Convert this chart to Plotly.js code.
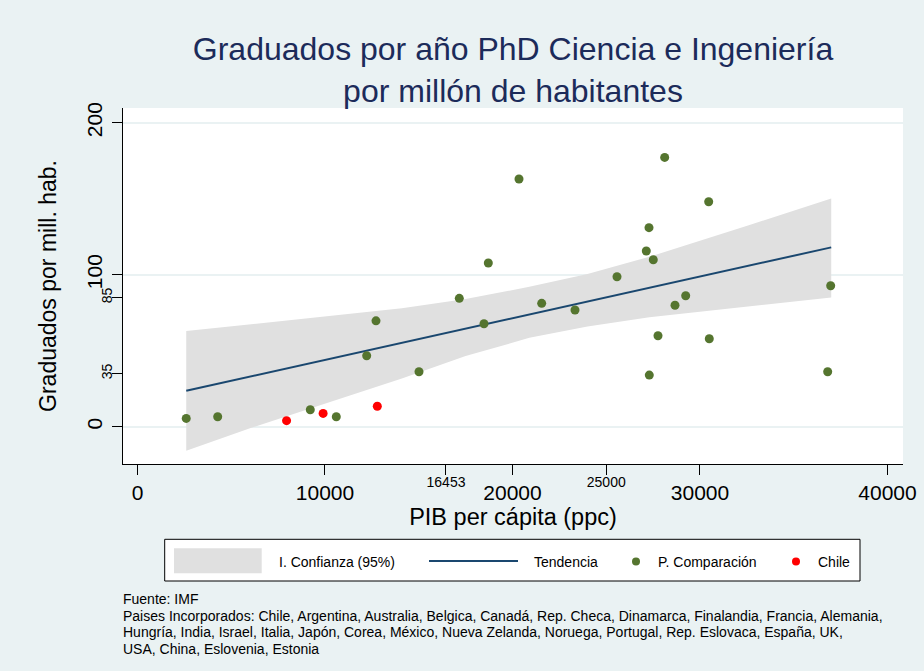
<!DOCTYPE html>
<html>
<head>
<meta charset="utf-8">
<script src="https://cdn.plot.ly/plotly-3.0.1.min.js"></script>
<style>
  html, body { margin: 0; padding: 0; background: #eaf2f3; }
  #chart { width: 924px; height: 671px; }
</style>
</head>
<body>
<div id="chart"></div>
<script>
// ---- Data ----
const compX = [2600, 4277, 9216, 10603, 12224, 12720, 15013, 17163, 18480, 18710, 20347, 21557, 23333,
               25573, 27136, 27280, 27509, 27296, 27760, 28117, 28667, 29237, 30464, 30496, 36810, 36970];
const compY = [5.5, 6.6, 11.2, 6.6, 46.7, 69.7, 36.2, 84.5, 67.8, 107.7, 163, 81.2, 76.8,
               98.7, 115.6, 131, 109.9, 34.0, 59.9, 177.2, 79.9, 86.2, 148, 57.9, 36.2, 92.8];
const chileX = [7950, 9900, 12790];
const chileY = [4.0, 8.8, 13.5];
const trendX = [2600, 37000];
const trendY = [23.7, 118.0];
const bandX = [2600, 6000, 9700, 14100, 17500, 20900, 24000, 27300, 32600, 37000];
const bandUpper = [63.0, 67.3, 72.0, 77.9, 84.0, 92.1, 100.5, 111.8, 132.5, 150.2];
const bandLower = [-15.8, -1.0, 14.0, 31.8, 46.5, 58.5, 66.0, 72.0, 79.0, 85.1];
const xMajorTicks = [0, 10000, 20000, 30000, 40000];
const xMarkTicks = [16453, 25000];
const yMajorTicks = [0, 100, 200];
const yMarkTicks = [35, 85];

const titleText = 'Graduados por año PhD Ciencia e Ingeniería<br>por millón de habitantes';
const xTitle = 'PIB per cápita (ppc)';
const yTitle = 'Graduados por mill. hab.';
const legendLabels = ['I. Confianza (95%)', 'Tendencia', 'P. Comparación', 'Chile'];
const noteLines = [
  'Fuente: IMF',
  'Paises Incorporados: Chile, Argentina, Australia, Belgica, Canadá, Rep. Checa, Dinamarca, Finalandia, Francia, Alemania,',
  'Hungría, India, Israel, Italia, Japón, Corea, México, Nueva Zelanda, Noruega, Portugal, Rep. Eslovaca, España, UK,',
  'USA, China, Eslovenia, Estonia'
];

// ---- Styling ----
const FONT = 'Liberation Sans, Arial, Helvetica, sans-serif';
const BG = '#eaf2f3';
const BAND = '#e0e0e0';
const NAVY = '#1a476f';
const GREEN = '#55752f';
const RED = '#ff0000';

const W = 924, H = 671;
const M = {l: 123, r: 21, t: 108, b: 207};
const PW = W - M.l - M.r, PH = H - M.t - M.b;
const fx = px => (px - M.l) / PW;
const fy = py => (H - M.b - py) / PH;

const xRange = [-773, 40827];
const yRange = [-24.5, 209.7];

const traces = [
  {
    x: bandX.concat(bandX.slice().reverse()),
    y: bandUpper.concat(bandLower.slice().reverse()),
    type: 'scatter', mode: 'lines', fill: 'toself',
    fillcolor: BAND, line: {width: 0, color: BAND},
    hoverinfo: 'skip', showlegend: false, xaxis: 'x', yaxis: 'y'
  },
  {
    x: trendX, y: trendY, type: 'scatter', mode: 'lines',
    line: {color: NAVY, width: 2}, showlegend: false, xaxis: 'x2', yaxis: 'y2'
  },
  {
    x: compX, y: compY, type: 'scatter', mode: 'markers',
    marker: {color: GREEN, size: 9}, showlegend: false, xaxis: 'x2', yaxis: 'y2'
  },
  {
    x: chileX, y: chileY, type: 'scatter', mode: 'markers',
    marker: {color: RED, size: 9}, showlegend: false, xaxis: 'x2', yaxis: 'y2'
  }
];

// Manual legend (layout only)
const legY = 561;
const shapes = [
  {type: 'rect', xref: 'paper', yref: 'paper', x0: fx(164.7), x1: fx(860), y0: fy(581), y1: fy(539.3),
   line: {color: '#000000', width: 1}, fillcolor: '#ffffff', layer: 'above'},
  {type: 'rect', xref: 'paper', yref: 'paper', x0: fx(174), x1: fx(261.7), y0: fy(573.3), y1: fy(548.3),
   line: {width: 0}, fillcolor: BAND, layer: 'above'},
  {type: 'line', xref: 'paper', yref: 'paper', x0: fx(429), x1: fx(518), y0: fy(legY), y1: fy(legY),
   line: {color: NAVY, width: 2}, layer: 'above'},
  {type: 'circle', xref: 'paper', yref: 'paper', x0: fx(632), x1: fx(640), y0: fy(565.5), y1: fy(557.5),
   line: {width: 0}, fillcolor: GREEN, layer: 'above'},
  {type: 'circle', xref: 'paper', yref: 'paper', x0: fx(792), x1: fx(800), y0: fy(565.5), y1: fy(557.5),
   line: {width: 0}, fillcolor: RED, layer: 'above'}
];
const legX = [279, 534, 657.5, 817.5];
const annotations = legendLabels.map((t, i) => ({
  text: t, xref: 'paper', yref: 'paper', x: fx(legX[i] - 2), y: fy(legY + 1),
  xanchor: 'left', yanchor: 'middle', showarrow: false,
  font: {family: FONT, size: 14, color: '#000000'}
}));
const noteY0 = 599, noteStep = 16.5;
noteLines.forEach((t, i) => {
  annotations.push({
    text: t, xref: 'paper', yref: 'paper', x: fx(122), y: fy(noteY0 + i * noteStep),
    xanchor: 'left', yanchor: 'middle', align: 'left', showarrow: false, borderpad: 0,
    font: {family: FONT, size: 14, color: '#000000'}
  });
});

const layout = {
  width: W, height: H,
  margin: M,
  paper_bgcolor: BG, plot_bgcolor: '#ffffff',
  font: {family: FONT, color: '#000000'},
  showlegend: false,
  title: {
    text: titleText, xref: 'paper', x: 0.5, xanchor: 'center',
    yref: 'container', y: 1 - 60 / H, yanchor: 'middle',
    font: {family: FONT, size: 32, color: '#1c2b5a'}
  },
  xaxis: {
    range: xRange, tickvals: xMajorTicks, ticktext: xMajorTicks.map(String),
    ticks: 'outside', ticklen: 10, tickwidth: 1, tickcolor: '#000000',
    tickfont: {family: FONT, size: 21, color: '#000000'}, ticklabelstandoff: 0,
    showline: true, linecolor: '#000000', linewidth: 1, mirror: false,
    showgrid: false, zeroline: false, automargin: false,
    title: {text: xTitle, font: {family: FONT, size: 23.5, color: '#000000'}, standoff: 0}
  },
  yaxis: {
    range: yRange, tickvals: yMajorTicks, ticktext: yMajorTicks.map(String), tickangle: -90,
    ticks: 'outside', ticklen: 10, tickwidth: 1, tickcolor: '#000000',
    tickfont: {family: FONT, size: 21, color: '#000000'}, ticklabelstandoff: 2,
    showline: true, linecolor: '#000000', linewidth: 1,
    showgrid: true, gridcolor: BG, gridwidth: 2, zeroline: false, automargin: false,
    title: {text: yTitle, font: {family: FONT, size: 23, color: '#000000'}, standoff: 19}
  },
  xaxis2: {
    overlaying: 'x', anchor: 'y', side: 'bottom', range: xRange,
    tickvals: xMarkTicks, ticktext: xMarkTicks.map(String),
    ticks: 'outside', ticklen: 10, tickwidth: 1, tickcolor: '#000000',
    tickfont: {family: FONT, size: 14, color: '#000000'}, ticklabelstandoff: -5,
    showline: false, showgrid: false, zeroline: false, automargin: false
  },
  yaxis2: {
    overlaying: 'y', anchor: 'x', side: 'left', range: yRange,
    tickvals: yMarkTicks, ticktext: yMarkTicks.map(String), tickangle: -90,
    ticks: 'outside', ticklen: 10, tickwidth: 1, tickcolor: '#000000',
    tickfont: {family: FONT, size: 14, color: '#000000'}, ticklabelstandoff: -6,
    showline: false, showgrid: false, zeroline: false, automargin: false
  },
  shapes: shapes,
  annotations: annotations
};

Plotly.newPlot('chart', traces, layout, {displayModeBar: false, staticPlot: true});
</script>
</body>
</html>
